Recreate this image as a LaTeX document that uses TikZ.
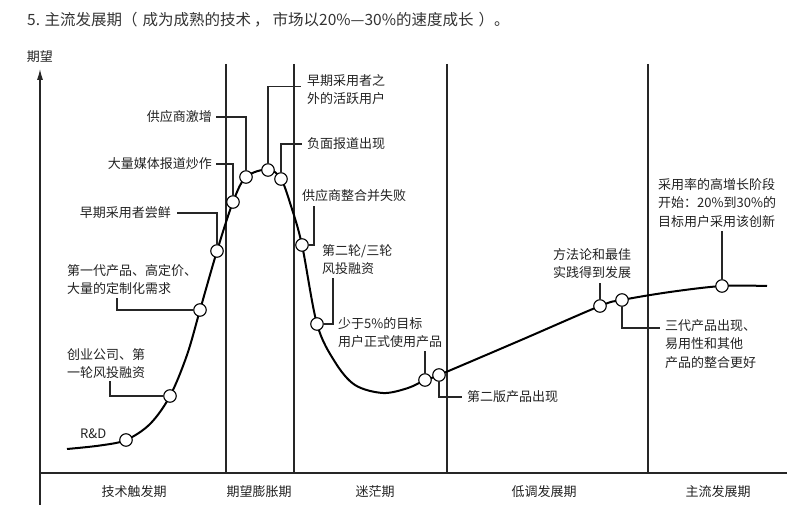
\documentclass[tikz,border=0pt]{standalone}
\usepackage{fontspec}
\setmainfont{Noto Sans CJK SC}
\usetikzlibrary{arrows.meta}
\definecolor{ink}{HTML}{222222}
\definecolor{titlegray}{HTML}{333333}
\begin{document}
\begin{tikzpicture}[x=1pt,y=-1pt,
  lbl/.style={inner sep=0pt, font=\fontsize{13}{18.5}\selectfont, text=ink, align=left},
  dot/.style={circle, draw=black, fill=white, line width=1.1pt, minimum size=12.5pt, inner sep=0pt},
  lead/.style={draw=black!85, line width=1.1pt},
  phase/.style={inner sep=0pt, font=\fontsize{13}{16}\selectfont, text=ink},
  sepline/.style={line width=1.1pt, draw=black!85},
  curveline/.style={line width=2pt, draw=black, line join=round}]
\useasboundingbox (0,0) rectangle (795,505);
% title
\node[anchor=west, font=\fontsize{15.5}{18}\selectfont, text=titlegray, inner sep=0pt] (title) at (27,20)
  {5. 主流发展期（\hspace{5pt}成为成熟的技术\hspace{3pt}，\hspace{3pt}市场以20\%—30\%的速度成长\hspace{5pt}）。};
% axes and phase separators
\coordinate (yb) at (40,505);
\coordinate (yt) at (40,69);
\coordinate (xl) at (40,473);
\coordinate (xr) at (787,473);
\draw[sepline, -{Latex[length=11pt,width=6pt]}] (yb) -- (yt);
\draw[sepline] (xl) -- (xr);
\node[lbl] (ylab) at (40,57) {期望};
\foreach \x/\n in {226/s1,294/s2,447/s3,648/s4}{
  \coordinate (\n t) at (\x,64);
  \draw[sepline] (\n t) -- (\n t |- xl);
}
% phase labels
\node[phase] (p1) at (134,492) {技术触发期};
\node[phase] (p2) at (259,492) {期望膨胀期};
\node[phase] (p3) at (375,492) {迷茫期};
\node[phase] (p4) at (544,492) {低调发展期};
\node[phase] (p5) at (718,492) {主流发展期};
% hype curve
\draw[curveline] plot[smooth, tension=0.55] coordinates {
  (67,449) (100,445.5) (126,440) (150,424) (170,396) (187,355) (200,310) (217,251)
  (233,202) (246,177) (268,169.5) (281,179) (291,206) (302,245) (317,324)
  (335,362) (355,385) (383,393) (408,388) (425,380) (439,375) (520,340.5)
  (600,306) (622,300) (670,292) (722,286) (767,286)};
% circles
\node[dot] (c1) at (126,440) {};
\node[dot] (c2) at (170,396) {};
\node[dot] (c3) at (200,310) {};
\node[dot] (c4) at (217,251) {};
\node[dot] (c5) at (233,202) {};
\node[dot] (c6) at (246,177) {};
\node[dot] (c7) at (268,170) {};
\node[dot] (c8) at (281,179) {};
\node[dot] (c9) at (302,245) {};
\node[dot] (c10) at (317,324) {};
\node[dot] (c11) at (425,380) {};
\node[dot] (c12) at (439,375) {};
\node[dot] (c13) at (600,306) {};
\node[dot] (c14) at (622,300) {};
\node[dot] (c15) at (722,286) {};
% labels
\node[lbl, anchor=west] (l1) at (80,434) {R\&D};
\node[lbl, anchor=north west] (l2) at (67,348) {创业公司、第\\一轮风投融资};
\node[lbl, anchor=north west] (l3) at (67,264) {第一代产品、高定价、\\大量的定制化需求};
\node[lbl, anchor=east] (l4) at (171,213) {早期采用者尝鲜};
\node[lbl, anchor=east] (l5) at (212,164) {大量媒体报道炒作};
\node[lbl, anchor=east] (l6) at (212,117) {供应商激增};
\node[lbl, anchor=north west] (l7) at (307,74) {早期采用者之\\外的活跃用户};
\node[lbl, anchor=west] (l8) at (307,144) {负面报道出现};
\node[lbl, anchor=west] (l9) at (302,196) {供应商整合并失败};
\node[lbl, anchor=north west] (l10) at (322,244) {第二轮/三轮\\风投融资};
\node[lbl, anchor=north west] (l11) at (338,317) {少于5\%的目标\\用户正式使用产品};
\node[lbl, anchor=west] (l12) at (467,397) {第二版产品出现};
\node[lbl, anchor=north west] (l13) at (553,248) {方法论和最佳\\实践得到发展};
\node[lbl, anchor=north west] (l14) at (665,319) {三代产品出现、\\易用性和其他\\产品的整合更好};
\node[lbl, anchor=north west] (l15) at (658,178) {采用率的高增长阶段\\开始：20\%到30\%的\\目标用户采用该创新};
% leaders
\draw[lead] (c2.west) -| ([xshift=43pt,yshift=-2pt]l2.south west);
\draw[lead] (c3.west) -| ([xshift=50pt,yshift=-3pt]l3.south west);
\draw[lead] ([xshift=6pt]l4.east) -| (c4.north);
\draw[lead] ([xshift=4pt]l5.east) -| (c5.north);
\draw[lead] ([xshift=4pt]l6.east) -| (c6.north);
\draw[lead] (c7.north) |- ([xshift=-6pt,yshift=3pt]l7.west);
\draw[lead] (c8.north) |- ([xshift=-5pt]l8.west);
\draw[lead] (c9.east) -| ([xshift=12pt,yshift=-4pt]l9.south west);
\draw[lead] (c10.east) -| ([xshift=11pt,yshift=-3pt]l10.south west);
\draw[lead] (c11.north) -- ([yshift=-3pt]c11.north |- l11.south);
\draw[lead] (c12.south) |- ([xshift=-5pt]l12.west);
\draw[lead] (c13.north) -- ([yshift=-4pt]c13.north |- l13.south);
\draw[lead] (c14.south) |- ([xshift=-5pt,yshift=-9pt]l14.north west);
\draw[lead] (c15.north) -- ([yshift=-3pt]c15.north |- l15.south);
\end{tikzpicture}
\end{document}
